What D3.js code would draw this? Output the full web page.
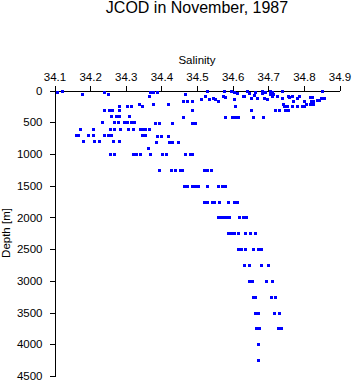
<!DOCTYPE html>
<html><head><meta charset="utf-8">
<script src="https://cdn.jsdelivr.net/npm/d3@7/dist/d3.min.js"></script>
<style>
html,body{margin:0;padding:0;background:#fff;}
svg{display:block;}
text{font-family:"Liberation Sans",Arial,Helvetica,sans-serif;fill:#000;}
</style></head>
<body><svg id="c" width="353" height="384"></svg>
<script>
const title = "JCOD in November, 1987";
const xLabel = "Salinity";
const yLabel = "Depth [m]";
const salinityTicks = [34.1,34.2,34.3,34.4,34.5,34.6,34.7,34.8,34.9];
const depthTicks = [0,500,1000,1500,2000,2500,3000,3500,4000,4500];

const salinity = [
 34.106,34.121,34.176,34.239,34.249,34.365,
 34.238,34.253,34.261,34.280,34.281,34.304,34.315,34.337,34.347,
 34.260,34.274,34.281,34.308,
 34.232,34.266,34.277,34.295,34.304,34.316,34.323,
 34.172,34.209,34.257,34.268,34.285,34.305,34.319,34.339,34.347,34.354,34.364,
 34.159,34.167,34.193,34.208,34.238,34.249,34.259,34.346,34.355,
 34.180,34.212,34.224,34.263,34.282,34.362,
 34.369,34.376,34.389,34.465,34.527,34.522,34.512,34.534,34.545,34.551,34.560,
 34.576,34.573,34.579,34.595,34.604,34.612,34.604,34.629,34.460,34.472,34.485,
 34.376,34.419,34.485,34.607,34.462,34.579,34.597,34.608,34.614,
 34.381,34.394,34.429,34.487,34.494,
 34.389,34.400,34.419,34.386,34.421,34.430,34.448,
 34.640,34.646,34.663,34.660,34.633,34.652,34.668,34.682,34.682,34.691,34.704,
 34.711,34.705,34.712,34.710,34.724,34.688,34.697,34.738,34.739,34.755,34.758,
 34.767,34.770,34.780,34.786,34.742,34.744,34.754,34.747,34.755,34.768,34.780,
 34.795,34.800,34.800,34.805,34.816,34.824,34.820,34.826,34.817,34.827,34.836,
 34.842,34.848,34.856,34.850,34.719,34.730,34.652,34.658,34.686,
 34.256,34.266,34.320,34.330,34.340,34.367,34.402,34.412,34.465,34.480,34.487,
 34.392,34.428,34.437,34.451,34.459,34.520,34.528,34.538,
 34.464,34.472,34.486,34.494,34.504,34.528,34.559,34.570,34.579,
 34.521,34.529,34.542,34.549,34.563,34.587,34.604,34.611,
 34.558,34.566,34.575,34.583,34.591,34.617,34.628,34.638,
 34.588,34.596,34.605,34.615,34.636,34.650,34.664,
 34.614,34.624,34.634,34.656,34.670,34.681,
 34.633,34.645,34.681,34.699,
 34.647,34.655,34.695,34.711,
 34.657,34.664,34.708,34.720,
 34.663,34.671,34.717,34.731,
 34.666,34.674,34.726,34.736,
 34.670,
 34.671
];
const depth = [
 16,0,55,16,55,87,
 300,300,300,300,250,250,250,210,250,
 400,400,400,400,
 500,500,500,500,500,500,500,
 600,600,600,600,600,600,600,600,600,600,600,
 700,700,700,700,700,700,700,700,700,
 800,800,800,800,800,900,
 16,30,25,60,8,87,137,134,118,134,162,
 8,79,110,8,16,32,137,87,162,162,162,
 205,205,310,252,415,415,415,415,415,
 510,510,510,510,510,
 715,715,715,810,810,810,810,
 8,40,27,74,87,115,118,8,47,16,8,
 24,55,63,87,87,118,134,118,5,87,110,
 87,162,118,87,210,252,252,310,310,252,252,
 252,252,165,205,110,110,158,158,205,205,150,
 150,126,126,5,304,304,304,415,415,
 1000,1000,1000,1000,1000,1000,1000,1000,1000,1000,1000,
 1250,1250,1250,1250,1250,1250,1250,1250,
 1500,1500,1500,1500,1500,1500,1500,1500,1500,
 1750,1750,1750,1750,1750,1750,1750,1750,
 2000,2000,2000,2000,2000,2000,2000,2000,
 2250,2250,2250,2250,2250,2250,2250,
 2500,2500,2500,2500,2500,2500,
 2750,2750,2750,2750,
 3000,3000,3000,3000,
 3250,3250,3250,3250,
 3500,3500,3500,3500,
 3750,3750,3750,3750,
 4000,
 4250
];

const svg = d3.select("#c");
const x = d3.scaleLinear().domain([34.1,34.9]).range([54.5,339.5]);
const y = d3.scaleLinear().domain([0,4500]).range([90.5,376]);

svg.append("text").attr("x",197).attr("y",13).attr("text-anchor","middle")
  .style("font-size","16px").text(title);
svg.append("text").attr("x",197).attr("y",64).attr("text-anchor","middle")
  .style("font-size","11.5px").text(xLabel);
svg.append("text").attr("transform","translate(10,233) rotate(-90)").attr("text-anchor","middle")
  .style("font-size","11.5px").text(yLabel);

const xa = svg.append("g").attr("transform","translate(0,90.5)")
  .call(d3.axisTop(x).tickValues(salinityTicks).tickSize(5).tickSizeOuter(0).tickPadding(5)
    .tickFormat(d3.format(".1f")));
const ya = svg.append("g").attr("transform","translate(54.5,0)")
  .call(d3.axisLeft(y).tickValues(depthTicks).tickSize(5).tickSizeOuter(0).tickPadding(7)
    .tickFormat(d3.format("d")));
[xa,ya].forEach(g=>{
  g.selectAll("path,line").attr("stroke","#000").attr("shape-rendering","crispEdges");
  g.selectAll("text").style("font-size","11.5px").style("font-family","'Liberation Sans',Arial,sans-serif").attr("fill","#000");
});

const pts = salinity.map((s,i)=>({s, d: depth[i]}));
svg.append("g").attr("shape-rendering","crispEdges").selectAll("rect").data(pts).join("rect")
  .attr("x", p => Math.round(x(p.s)) - 1)
  .attr("y", p => Math.round(y(p.d)) - 1)
  .attr("width", 3).attr("height", 3)
  .attr("fill", "#0000ff");
</script></body></html>
